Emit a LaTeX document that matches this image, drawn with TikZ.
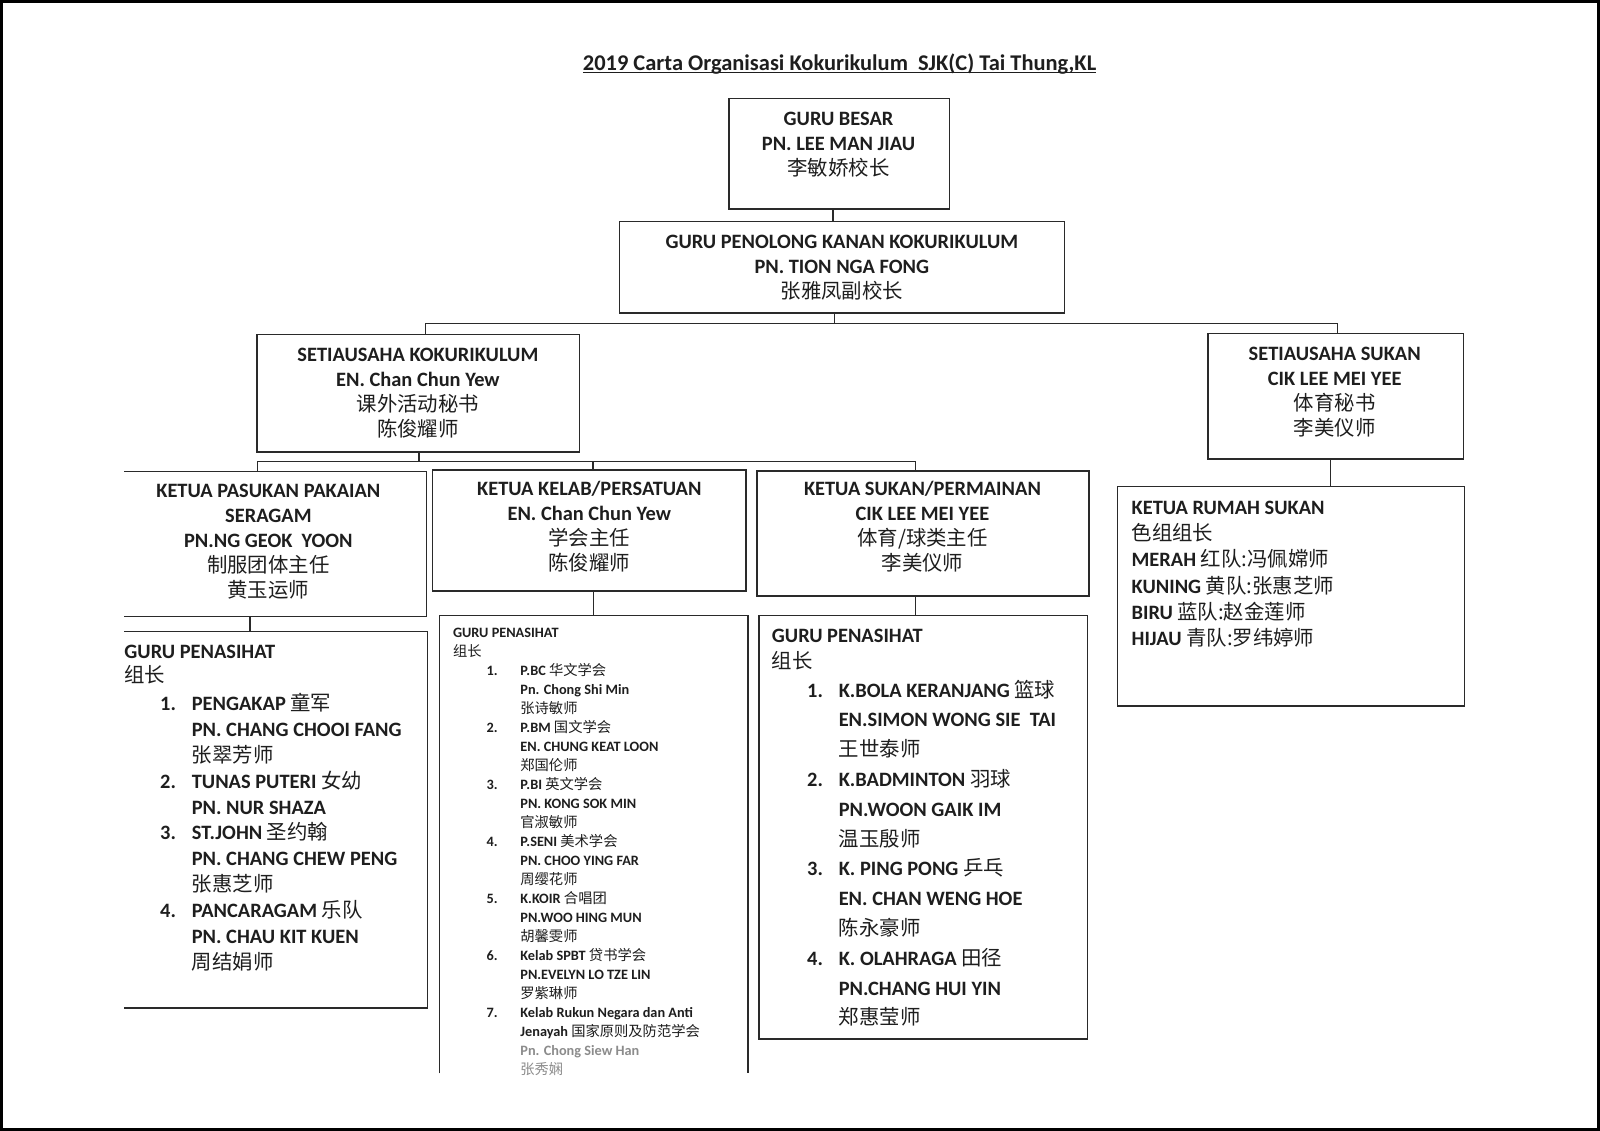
\documentclass[tikz,border=0pt]{standalone}
\usepackage{fontspec}
\usepackage{array}
\setmainfont{Carlito}
\newfontfamily\cjkf{Noto Sans CJK SC}
\newcommand\zh[1]{{\cjkf\mdseries #1}}
\usetikzlibrary{calc}
\definecolor{ink}{HTML}{1E1E1E}
\definecolor{lineink}{HTML}{2A2A2A}
\definecolor{faded}{HTML}{8C8C8C}
\begin{document}
\begin{tikzpicture}[x=1pt,y=-1pt,
  every node/.style={inner sep=0pt,outer sep=0pt,text=ink},
  ln/.style={draw=lineink,line width=1.4pt},
  bx/.style={ln,rectangle,anchor=north west},
  openbx/.style={rectangle,anchor=north west},
  conn/.style={draw=lineink,line width=1.3pt},
  hdr/.style={anchor=north,font=\fontsize{20}{24.5}\selectfont\bfseries},
  lst/.style={anchor=north west,font=\fontsize{20}{25.4}\selectfont\bfseries},
  smalllst/.style={anchor=north west,font=\fontsize{14}{18.6}\selectfont\bfseries}]
\useasboundingbox (0,0) rectangle (1568,1108);
\fill[white] (0,0) rectangle (1568,1108);
\draw[line width=3pt,draw=black] (1.5,1.5) rectangle (1566.5,1106.5);

% title
\node[anchor=base,font=\fontsize{22}{24}\selectfont\bfseries] (title) at (822.7,69.3) {2019 Carta Organisasi Kokurikulum\ \ SJK(C) Tai Thung,KL};
\draw[draw=ink,line width=1.2pt] ([yshift=-1.8pt]title.base west) -- ([yshift=-1.8pt]title.base east);

% level 1 and 2
\node[bx,minimum width=216pt,minimum height=108.7pt] (gb) at (714.4,96.3) {};
\node[hdr] (gbt) at (821.8,106) {\begin{tabular}{@{}c@{}}GURU BESAR\\PN. LEE MAN JIAU\\\zh{李敏娇校长}\end{tabular}};

\node[bx,minimum width=436pt,minimum height=89.3pt] (gpk) at (607,217.3) {};
\node[hdr] (gpkt) at (825,226.7) {\begin{tabular}{@{}c@{}}GURU PENOLONG KANAN KOKURIKULUM\\PN. TION NGA FONG\\\zh{张雅凤副校长}\end{tabular}};

% level 3
\node[bx,minimum width=316pt,minimum height=115pt] (sk) at (252,328) {};
\node[hdr] (skt) at (409.5,337.2) {\begin{tabular}{@{}c@{}}SETIAUSAHA KOKURIKULUM\\EN. Chan Chun Yew\\\zh{课外活动秘书}\\\zh{陈俊耀师}\end{tabular}};

\node[bx,minimum width=250pt,minimum height=123pt] (ss) at (1184,327) {};
\node[hdr] (sst) at (1308,336.2) {\begin{tabular}{@{}c@{}}SETIAUSAHA SUKAN\\CIK LEE MEI YEE\\\zh{体育秘书}\\\zh{李美仪师}\end{tabular}};

% level 4
\node[openbx,minimum width=296pt,minimum height=142pt] (kp) at (122,462) {};
\draw[ln] (kp.north west) -- (kp.north east) -- (kp.south east) -- (kp.south west);
\node[hdr] (kpt) at (263,470.2) {\begin{tabular}{@{}c@{}}KETUA PASUKAN PAKAIAN\\SERAGAM\\PN.NG GEOK\ \ YOON\\\zh{制服团体主任}\\\zh{黄玉运师}\end{tabular}};

\node[bx,minimum width=307.4pt,minimum height=118.4pt] (kk) at (423.6,460.6) {};
\node[hdr] (kkt) at (577.5,468.7) {\begin{tabular}{@{}c@{}}KETUA KELAB/PERSATUAN\\EN. Chan Chun Yew\\\zh{学会主任}\\\zh{陈俊耀师}\end{tabular}};

\node[bx,minimum width=325pt,minimum height=122.4pt] (ks) at (742,461.6) {};
\node[hdr] (kst) at (904,468.7) {\begin{tabular}{@{}c@{}}KETUA SUKAN/PERMAINAN\\CIK LEE MEI YEE\\\zh{体育/球类主任}\\\zh{李美仪师}\end{tabular}};

\node[bx,minimum width=340pt,minimum height=215pt] (kr) at (1095,477) {};
\node[anchor=north west,font=\fontsize{20}{25.6}\selectfont\bfseries] (krt) at (1109,486.5) {\begin{tabular}{@{}l@{}}KETUA RUMAH SUKAN\\\zh{色组组长}\\MERAH \zh{红队:冯佩嫦师}\\KUNING \zh{黄队:张惠芝师}\\BIRU \zh{蓝队:赵金莲师}\\HIJAU \zh{青队:罗纬婷师}\end{tabular}};

% level 5
\node[openbx,minimum width=297pt,minimum height=369pt] (gp1) at (122,619) {};
\draw[ln] (gp1.north west) -- (gp1.north east) -- (gp1.south east) -- (gp1.south west);
\node[lst] (gp1t) at (122,627.6) {\begin{tabular}{@{}p{35pt}@{}p{31pt}@{}l@{}}
\multicolumn{3}{@{}l@{}}{GURU PENASIHAT}\\[-1.5pt]
\multicolumn{3}{@{}l@{}}{\zh{组长}}\\[1.5pt]
 & 1. & PENGAKAP \zh{童军}\\
 & & PN. CHANG CHOOI FANG\\
 & & \zh{张翠芳师}\\
 & 2. & TUNAS PUTERI \zh{女幼}\\
 & & PN. NUR SHAZA\\
 & 3. & ST.JOHN \zh{圣约翰}\\
 & & PN. CHANG CHEW PENG\\
 & & \zh{张惠芝师}\\
 & 4. & PANCARAGAM \zh{乐队}\\
 & & PN. CHAU KIT KUEN\\
 & & \zh{周结娟师}
\end{tabular}};

\node[openbx,minimum width=302.5pt,minimum height=449pt] (gp2) at (430.5,603) {};
\draw[ln] (gp2.south west) -- (gp2.north west) -- (gp2.north east) -- (gp2.south east);
\node[smalllst] (gp2t) at (444,611.8) {\begin{tabular}{@{}p{33pt}@{}p{33pt}@{}l@{}}
\multicolumn{3}{@{}l@{}}{GURU PENASIHAT}\\
\multicolumn{3}{@{}l@{}}{\zh{组长}}\\
 & 1. & P.BC \zh{华文学会}\\
 & & Pn. Chong Shi Min\\
 & & \zh{张诗敏师}\\
 & 2. & P.BM \zh{国文学会}\\
 & & EN. CHUNG KEAT LOON\\
 & & \zh{郑国伦师}\\
 & 3. & P.BI \zh{英文学会}\\
 & & PN. KONG SOK MIN\\
 & & \zh{官淑敏师}\\
 & 4. & P.SENI \zh{美术学会}\\
 & & PN. CHOO YING FAR\\
 & & \zh{周缨花师}\\
 & 5. & K.KOIR \zh{合唱团}\\
 & & PN.WOO HING MUN\\
 & & \zh{胡馨雯师}\\
 & 6. & Kelab SPBT \zh{贷书学会}\\
 & & PN.EVELYN LO TZE LIN\\
 & & \zh{罗紫琳师}\\
 & 7. & Kelab Rukun Negara dan Anti\\
 & & Jenayah \zh{国家原则及防范学会}\\
 & & \textcolor{faded}{Pn. Chong Siew Han}\\
 & & \textcolor{faded}{\zh{张秀娴}}
\end{tabular}};

\node[bx,minimum width=322pt,minimum height=415pt] (gp3) at (744,603) {};
\node[lst,font=\fontsize{20}{29.2}\selectfont\bfseries] (gp3t) at (756.5,609.4) {\begin{tabular}{@{}p{34.5pt}@{}p{31pt}@{}l@{}}
\multicolumn{3}{@{}l@{}}{GURU PENASIHAT}\\[-4pt]
\multicolumn{3}{@{}l@{}}{\zh{组长}}\\[-1pt]
 & 1. & K.BOLA KERANJANG \zh{篮球}\\
 & & EN.SIMON WONG SIE\ \ TAI\\
 & & \zh{王世泰师}\\
 & 2. & K.BADMINTON \zh{羽球}\\
 & & PN.WOON GAIK IM\\
 & & \zh{温玉殷师}\\
 & 3. & K. PING PONG \zh{乒乓}\\
 & & EN. CHAN WENG HOE\\
 & & \zh{陈永豪师}\\
 & 4. & K. OLAHRAGA \zh{田径}\\
 & & PN.CHANG HUI YIN\\
 & & \zh{郑惠莹师}
\end{tabular}};

% connectors
\draw[conn] ([xshift=-6pt]gb.south) -- ([xshift=-6pt]gb.south |- gpk.north);
\coordinate (b1) at (818,317);
\draw[conn] ([xshift=-7pt]gpk.south) -- (b1);
\draw[conn] ([xshift=7pt]sk.north) |- (b1) -| ([xshift=1.5pt]ss.north);
\coordinate (b2) at (410.6,452);
\draw[conn] ([xshift=0.6pt]sk.south) -- (b2);
\draw[conn] ([xshift=-17.5pt]kp.north) |- (b2) -| ([xshift=-7.1pt]ks.north);
\draw[conn] ([xshift=3.7pt]kk.north) -- ([xshift=3.7pt]kk.north |- b2);
\draw[conn] ([xshift=-25pt]kp.south) -- ([xshift=-25pt]kp.south |- gp1.north);
\draw[conn] ([xshift=4.3pt]kk.south) -- ([xshift=4.3pt]kk.south |- gp2.north);
\draw[conn] ([xshift=-7.1pt]ks.south) -- ([xshift=-7.1pt]ks.south |- gp3.north);
\draw[conn] ([xshift=-5pt]ss.south) -- ([xshift=-5pt]ss.south |- kr.north);
\end{tikzpicture}
\end{document}
